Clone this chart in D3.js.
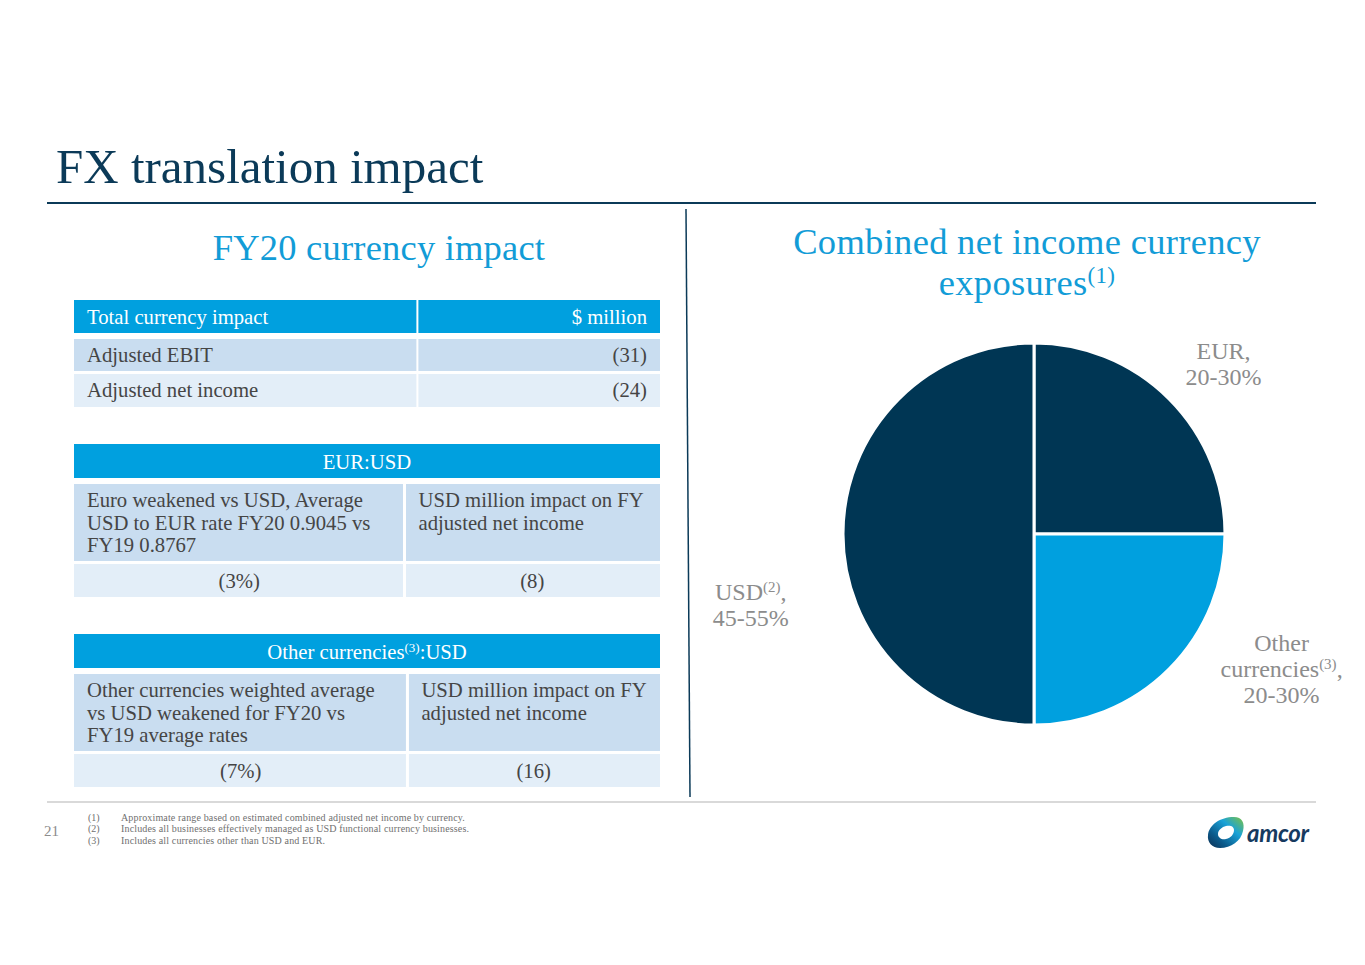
<!DOCTYPE html>
<html>
<head>
<meta charset="utf-8">
<script src="https://cdn.jsdelivr.net/npm/d3@7"></script>
<style>
  body { margin: 0; background: #fff; }
  svg { display: block; font-family: "Liberation Serif", "DejaVu Serif", serif; }
</style>
</head>
<body>
<svg id="slide"></svg>
<script>
// ---- data ----
const pieCategories = ["EUR", "Other currencies", "USD"];
const pieValues = [25, 25, 50];          // midpoints of 20-30%, 20-30%, 45-55%
const pieRanges = ["20-30%", "20-30%", "45-55%"];

const totalHeader = ["Total currency impact", "$ million"];
const totalRows = ["Adjusted EBIT", "Adjusted net income"];
const totalValues = ["(31)", "(24)"];

const eurHeader = "EUR:USD";
const eurDesc = [["Euro weakened vs USD, Average", "USD to EUR rate FY20 0.9045 vs", "FY19 0.8767"],
                 ["USD million impact on FY", "adjusted net income"]];
const eurValues = ["(3%)", "(8)"];

const otherDesc = [["Other currencies weighted average", "vs USD weakened for FY20 vs", "FY19 average rates"],
                   ["USD million impact on FY", "adjusted net income"]];
const otherValues = ["(7%)", "(16)"];

const footnotes = ["Approximate range based on estimated combined adjusted net income by currency.",
                   "Includes all businesses effectively managed as USD functional currency businesses.",
                   "Includes all currencies other than USD and EUR."];

// ---- styles ----
const W = 1365, H = 965;
const navy = "#003654", blue = "#00A0DF", rowDark = "#C9DDF0", rowLight = "#E3EEF8";
const bodyText = "#454545", labelGrey = "#8C8C8C", titleBlue = "#129CD7";

const svg = d3.select("#slide").attr("width", W).attr("height", H);

// title + rules
svg.append("text").attr("x", 56).attr("y", 183)
  .attr("font-size", 49).attr("fill", "#0B3A58")
  .text("FX translation impact");
svg.append("line").attr("x1", 47).attr("x2", 1316).attr("y1", 203).attr("y2", 203)
  .attr("stroke", "#0B3A58").attr("stroke-width", 2);
svg.append("line").attr("x1", 686).attr("x2", 690).attr("y1", 209).attr("y2", 797)
  .attr("stroke", "#0B3A58").attr("stroke-width", 1.5);
svg.append("line").attr("x1", 47).attr("x2", 1316).attr("y1", 802).attr("y2", 802)
  .attr("stroke", "#D9D9D9").attr("stroke-width", 2);

// ---- left: tables ----
svg.append("text").attr("x", 379).attr("y", 260).attr("text-anchor", "middle")
  .attr("font-size", 36.5).attr("fill", titleBlue).attr("letter-spacing", 0.2)
  .text("FY20 currency impact");

const tx = d3.scaleLinear().domain([0, 1]).range([74, 660]);
const fs = 20.7;

function cellText(g, x, y, str, anchor, color) {
  return g.append("text").attr("x", x).attr("y", y).attr("text-anchor", anchor || "start")
    .attr("font-size", fs).attr("fill", color || bodyText).text(str);
}

// table 1
const t1 = svg.append("g");
const split1 = 0.586;
const t1Rows = [{ y: 300, h: 33, fill: blue }, { y: 339, h: 32, fill: rowDark }, { y: 374, h: 33, fill: rowLight }];
t1Rows.forEach(r => {
  t1.append("rect").attr("x", tx(0)).attr("y", r.y).attr("width", tx(split1) - tx(0) - 1).attr("height", r.h).attr("fill", r.fill);
  t1.append("rect").attr("x", tx(split1) + 1).attr("y", r.y).attr("width", tx(1) - tx(split1) - 1).attr("height", r.h).attr("fill", r.fill);
});
cellText(t1, 87, 324, totalHeader[0], "start", "#fff");
cellText(t1, 647, 324, totalHeader[1], "end", "#fff");
totalRows.forEach((d, i) => {
  const yb = t1Rows[i + 1].y + 23;
  cellText(t1, 87, yb, d);
  cellText(t1, 647, yb, totalValues[i], "end");
});

// tables 2 and 3
function detailTable(top, split, header, desc, values, supIndex) {
  const g = svg.append("g");
  g.append("rect").attr("x", tx(0)).attr("y", top).attr("width", tx(1) - tx(0)).attr("height", 34).attr("fill", blue);
  const ht = g.append("text").attr("x", 367).attr("y", top + 25).attr("text-anchor", "middle")
    .attr("font-size", fs).attr("fill", "#fff");
  if (supIndex) {
    ht.append("tspan").text(header[0]);
    ht.append("tspan").attr("font-size", 13).attr("dy", -7).text(supIndex);
    ht.append("tspan").attr("dy", 7).text(header[1]);
  } else ht.text(header);

  const xs = tx(split);
  const rows = [{ y: top + 40, h: 77, fill: rowDark }, { y: top + 120, h: 33, fill: rowLight }];
  rows.forEach(r => {
    g.append("rect").attr("x", tx(0)).attr("y", r.y).attr("width", xs - tx(0) - 1.5).attr("height", r.h).attr("fill", r.fill);
    g.append("rect").attr("x", xs + 1.5).attr("y", r.y).attr("width", tx(1) - xs - 1.5).attr("height", r.h).attr("fill", r.fill);
  });
  desc.forEach((lines, c) => {
    const x = c === 0 ? 87 : xs + 14;
    lines.forEach((l, j) => cellText(g, x, top + 63 + j * 22.5, l));
  });
  values.forEach((v, c) => {
    const cx = c === 0 ? (tx(0) + xs) / 2 : (xs + tx(1)) / 2;
    cellText(g, cx, top + 144, v, "middle");
  });
}
detailTable(444, 0.564, eurHeader, eurDesc, eurValues);
detailTable(634, 0.569, ["Other currencies", ":USD"], otherDesc, otherValues, "(3)");

// ---- right: pie ----
const pt = svg.append("g").attr("text-anchor", "middle").attr("font-size", 36.5)
  .attr("fill", titleBlue).attr("letter-spacing", 0.3);
pt.append("text").attr("x", 1027).attr("y", 254).text("Combined net income currency");
const pt2 = pt.append("text").attr("x", 1027).attr("y", 295);
pt2.append("tspan").text("exposures");
pt2.append("tspan").attr("font-size", 23).attr("dy", -12).text("(1)");

const cx = 1034, cy = 534, radius = 191;
const pie = d3.pie().sort(null).value(d => d)(pieValues);
const arc = d3.arc().innerRadius(0).outerRadius(radius);
const colors = d3.scaleOrdinal().domain(pieCategories).range([navy, blue, navy]);

const pg = svg.append("g").attr("transform", `translate(${cx},${cy})`);
pg.selectAll("path").data(pie).join("path")
  .attr("d", arc)
  .attr("fill", (d, i) => colors(pieCategories[i]))
  .attr("stroke", "#fff").attr("stroke-width", 3);

// labels: placed from an outer arc centroid, nudged to match slide layout
const labelArc = d3.arc().innerRadius(radius * 1.3).outerRadius(radius * 1.3);
const labelNudge = [[14, 6], [72, -41], [-35, 71]];
const labelLines = [
  [["EUR,"], [pieRanges[0]]],
  [["Other"], ["currencies", "(3)", ","], [pieRanges[1]]],
  [["USD", "(2)", ","], [pieRanges[2]]]
];
const lg = pg.append("g").attr("font-size", 24).attr("fill", labelGrey)
  .attr("text-anchor", "middle");
pie.forEach((d, i) => {
  const [x, y] = labelArc.centroid(d);
  const lines = labelLines[i];
  const x0 = x + labelNudge[i][0];
  const y0 = y + labelNudge[i][1] - (lines.length - 1) * 26 / 2;
  lines.forEach((parts, j) => {
    const t = lg.append("text").attr("x", x0).attr("y", y0 + j * 26 + 8);
    t.append("tspan").text(parts[0]);
    if (parts.length > 1) {
      t.append("tspan").attr("font-size", 15).attr("dy", -8).text(parts[1]);
      t.append("tspan").attr("dy", 8).text(parts[2]);
    }
  });
});

// ---- footer ----
svg.append("text").attr("x", 44).attr("y", 836).attr("font-size", 15).attr("fill", "#8C8C8C").text("21");
const fg = svg.append("g").attr("font-size", 10).attr("fill", "#6f6f6f");
footnotes.forEach((f, i) => {
  fg.append("text").attr("x", 88).attr("y", 821 + i * 11.3).text(`(${i + 1})`);
  fg.append("text").attr("x", 121).attr("y", 821 + i * 11.3).attr("letter-spacing", 0.15).text(f);
});

// logo
const defs = svg.append("defs");
const grad = defs.append("linearGradient").attr("id", "logoGrad")
  .attr("x1", "100%").attr("y1", "0%").attr("x2", "0%").attr("y2", "100%");
grad.append("stop").attr("offset", "0%").attr("stop-color", "#7DC242");
grad.append("stop").attr("offset", "35%").attr("stop-color", "#1AA3D8");
grad.append("stop").attr("offset", "70%").attr("stop-color", "#0B5B8C");
grad.append("stop").attr("offset", "100%").attr("stop-color", "#0D2F52");
const logo = svg.append("g").attr("transform", "translate(1226,833)");
logo.append("path")
  .attr("d", "M -18 2 C -17 -8 -6 -16 8 -16 C 16 -16 19 -10 17 -2 C 15 8 5 15 -6 15 C -14 15 -19 9 -18 2 Z " +
             "M -8 1 C -8 5 -4 7 0 6 C 5 5 8 1 8 -3 C 8 -7 4 -8 0 -7 C -4 -6 -8 -3 -8 1 Z")
  .attr("fill", "url(#logoGrad)").attr("fill-rule", "evenodd");
svg.append("text").attr("x", 1247).attr("y", 842)
  .attr("font-family", "Lato, 'Open Sans', sans-serif").attr("font-weight", 700).attr("font-style", "italic")
  .attr("font-size", 24).attr("fill", "#163A5F").attr("letter-spacing", -0.3).text("amcor");
</script>
</body>
</html>
